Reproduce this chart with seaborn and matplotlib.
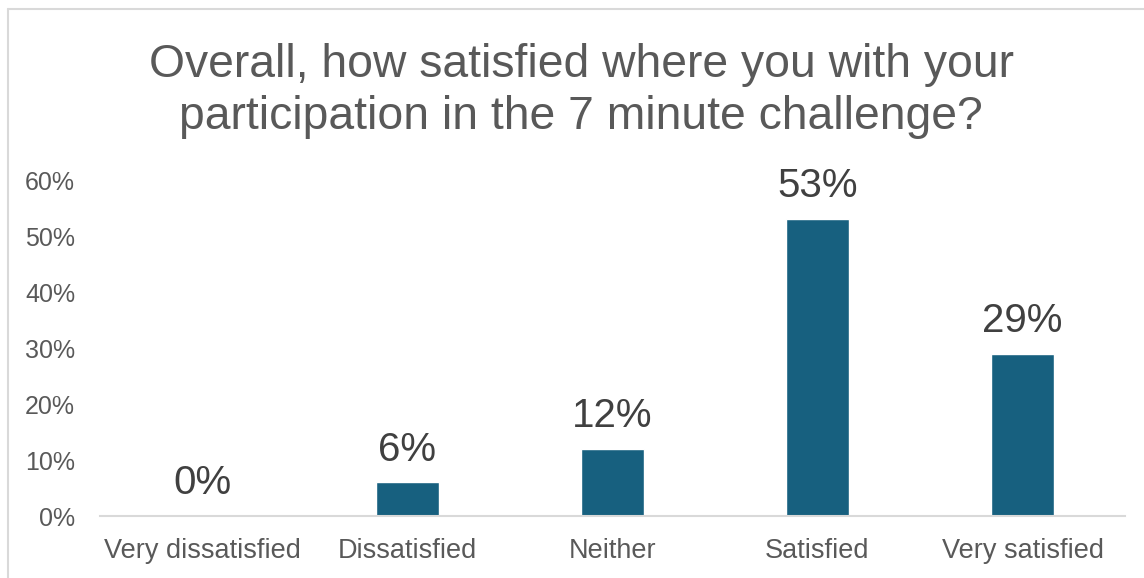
import matplotlib
matplotlib.use("Agg")
import matplotlib.pyplot as plt
from matplotlib.lines import Line2D
import seaborn as sns
import pandas as pd

categories = ["Very dissatisfied", "Dissatisfied", "Neither", "Satisfied", "Very satisfied"]
values = [0.00, 0.06, 0.12, 0.53, 0.29]
labels = ["0%", "6%", "12%", "53%", "29%"]
yticks = [0.0, 0.1, 0.2, 0.3, 0.4, 0.5, 0.6]
ytick_labels = ["0%", "10%", "20%", "30%", "40%", "50%", "60%"]
title = "Overall, how satisfied where you with your\nparticipation in the 7 minute challenge?"

sns.set_style("white")
plt.rcParams["font.family"] = ["Liberation Sans", "DejaVu Sans"]

df = pd.DataFrame({"category": categories, "value": values})

fig = plt.figure(figsize=(11.44, 5.78), dpi=100)
ax = fig.add_axes([100 / 1144, 62 / 578, 1025 / 1144, 336 / 578])

sns.barplot(data=df, x="category", y="value", color="#17607F", width=0.31,
            saturation=1, ax=ax, order=categories)

ax.set_ylim(0, 0.6)
ax.set_xlim(-0.5, len(categories) - 0.5)
ax.set_yticks(yticks)
ax.set_yticklabels(ytick_labels)
ax.set_xlabel("")
ax.set_ylabel("")
ax.tick_params(axis="y", length=0, pad=18, labelsize=18, labelcolor="#595959")
ax.tick_params(axis="x", length=0, pad=16, labelsize=19.5, labelcolor="#595959")
for s in ["top", "right", "left"]:
    ax.spines[s].set_visible(False)
ax.spines["bottom"].set_color("#D9D9D9")
ax.spines["bottom"].set_linewidth(1.5)

ax.bar_label(ax.containers[0], labels=labels, padding=10, fontsize=29, color="#404040")

fig.text(581 / 1144, 1 - 91 / 578, title, ha="center", va="center", fontsize=33.3,
         color="#595959", linespacing=1.25)

# chart frame (left and top edges visible)
fig.add_artist(Line2D([8 / 1144, 8 / 1144], [0, 1 - 9 / 578], transform=fig.transFigure,
                      color="#D9D9D9", lw=1.5))
fig.add_artist(Line2D([8 / 1144, 1], [1 - 9 / 578, 1 - 9 / 578], transform=fig.transFigure,
                      color="#D9D9D9", lw=1.5))

fig.savefig("out.png", dpi=100, facecolor="white")
